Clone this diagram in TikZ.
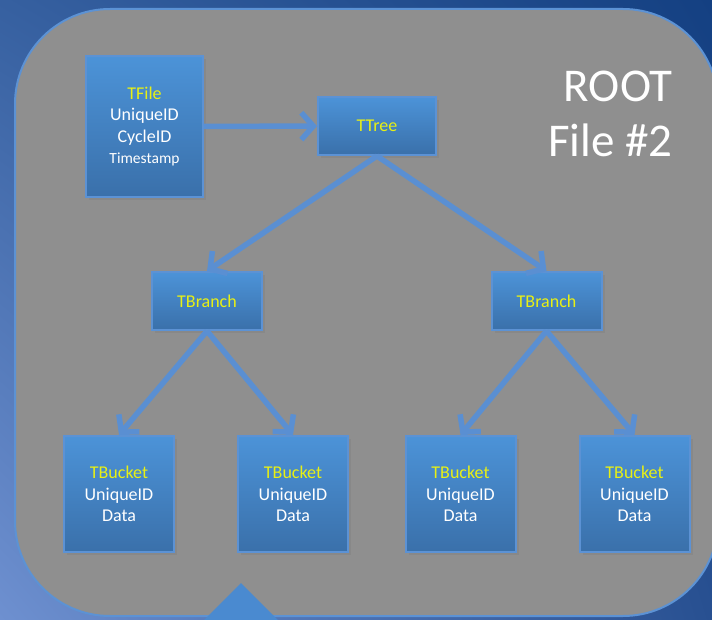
\documentclass[tikz,border=0pt]{standalone}
\usepackage{fontspec}
\setmainfont{Carlito}
\usepackage{xcolor}
\usepackage{tikz}
\usetikzlibrary{arrows.meta,shadows,shadings}
\definecolor{bgul}{RGB}{54,96,160}
\definecolor{bgur}{RGB}{20,64,130}
\definecolor{bgll}{RGB}{110,144,208}
\definecolor{bglr}{RGB}{40,80,145}
\definecolor{panelgray}{RGB}{143,143,143}
\definecolor{edgeblue}{RGB}{92,146,212}
\definecolor{boxtop}{RGB}{76,147,216}
\definecolor{boxbot}{RGB}{58,112,170}
\definecolor{arrblue}{RGB}{90,143,210}
\definecolor{tricol}{RGB}{74,138,208}
\definecolor{lbl}{RGB}{232,240,20}
\tikzset{
  panel/.style={fill=panelgray,draw=edgeblue,line width=2pt,rounded corners=95pt},
  box/.style={draw=edgeblue,line width=2pt,top color=boxtop,bottom color=boxbot,
    text=white,align=center,inner sep=0pt,font=\fontsize{18}{21.5}\selectfont,
    drop shadow={opacity=0.45,shadow xshift=3pt,shadow yshift=-3pt}},
  lnk/.style={draw=arrblue,line width=5.5pt,-{Straight Barb[length=12pt,width=27pt]}},
  tri/.style={fill=tricol}
}
\newcommand{\ty}[1]{\textcolor{lbl}{#1}}
\newcommand{\tbucket}[2]{\node[box,minimum width=110pt,minimum height=116pt] (#1) at (#2) {\ty{TBucket}\\UniqueID\\Data};}

\begin{document}
\begin{tikzpicture}[x=1pt,y=-1pt]
\useasboundingbox (0,0) rectangle (712,620);
\shade[upper left=bgul,upper right=bgur,lower left=bgll,lower right=bglr] (0,0) rectangle (712,620);
\draw[panel] (15,9) rectangle (718,616);
\fill[tri] (241,583) -- (288,630) -- (194,630) -- cycle;
\node[text=white,align=right,anchor=east,inner sep=0pt,font=\fontsize{47}{55}\selectfont] (title) at (673,114) {ROOT\\File \#2};
\node[box,minimum width=117pt,minimum height=141pt] (tfile) at (144.5,126.5) {\ty{TFile}\\UniqueID\\CycleID\\{\fontsize{15.5}{21.5}\selectfont Timestamp}};
\node[box,minimum width=118pt,minimum height=58pt] (ttree) at (377,126) {\ty{TTree}};
\node[box,minimum width=110pt,minimum height=58pt] (brl) at (207,301) {\ty{TBranch}};
\node[box,minimum width=110pt,minimum height=58pt] (brr) at (546.5,301) {\ty{TBranch}};
\tbucket{b1}{119,494}
\tbucket{b2}{293,494}
\tbucket{b3}{460.5,494}
\tbucket{b4}{634.5,494}
\draw[lnk] (tfile) -- (ttree);
\draw[lnk] (ttree.south) -- (brl.north); \draw[lnk] (ttree.south) -- (brr.north);
\draw[lnk] (brl.south) -- (b1.north); \draw[lnk] (brl.south) -- (b2.north);
\draw[lnk] (brr.south) -- (b3.north); \draw[lnk] (brr.south) -- (b4.north);
\end{tikzpicture}
\end{document}
